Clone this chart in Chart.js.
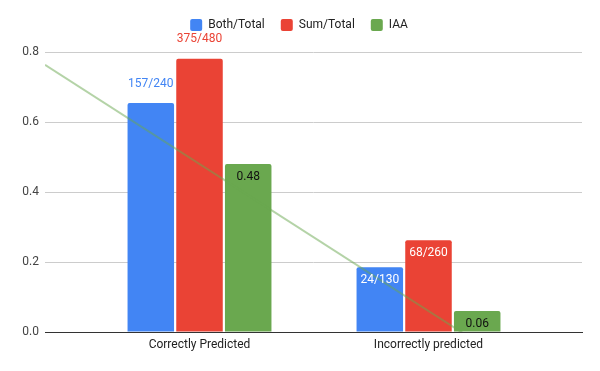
<!DOCTYPE html>
<html>
<head>
<meta charset="utf-8">
<script src="https://cdn.jsdelivr.net/npm/chart.js@4/dist/chart.umd.min.js"></script>
<style>
  html, body { margin: 0; padding: 0; background: #fff; }
  #wrap { width: 600px; height: 371px; }
</style>
</head>
<body>
<div id="wrap"><canvas id="chart"></canvas></div>
<script>
// dados
const categories = ["Correctly Predicted", "Incorrectly predicted"];
const bothTotal = [0.654, 0.185];
const sumTotal = [0.781, 0.262];
const iaa = [0.48, 0.06];
const bothLabels = ["157/240", "24/130"];
const sumLabels = ["375/480", "68/260"];
const iaaLabels = ["0.48", "0.06"];
const yTicks = [0, 0.2, 0.4, 0.6, 0.8];

const BLUE = "#4285f4";
const RED = "#ea4335";
const GREEN = "#6aa84f";

Chart.defaults.font.family = "Roboto";
Chart.defaults.font.size = 12;
Chart.defaults.color = "#444";

// legenda: mais espaço abaixo e centralizada de verdade
const legendGap = {
  id: "legendGap",
  beforeInit(chart) {
    const fit = chart.legend.fit;
    chart.legend.fit = function () {
      fit.call(this);
      this.height += 11;
    };
  },
  afterLayout(chart) {
    chart.legend.left += 8;
    chart.legend.right += 8;
  },
};

// linha de tendência (linear) da série IAA
const trendLine = {
  id: "trendLine",
  afterDatasetsDraw(chart) {
    const { ctx, chartArea, scales } = chart;
    const n = iaa.length;
    let sx = 0, sy = 0, sxy = 0, sxx = 0;
    iaa.forEach((v, i) => { sx += i; sy += v; sxy += i * v; sxx += i * i; });
    const slope = (n * sxy - sx * sy) / (n * sxx - sx * sx);
    const intercept = (sy - slope * sx) / n;

    const p0 = scales.x.getPixelForValue(0);
    const p1 = scales.x.getPixelForValue(1);
    const xL = (chartArea.left - p0) / (p1 - p0);
    const xR = (chartArea.right - p0) / (p1 - p0);

    ctx.save();
    ctx.beginPath();
    ctx.rect(chartArea.left, chartArea.top, chartArea.right - chartArea.left, chartArea.bottom - chartArea.top);
    ctx.clip();
    ctx.strokeStyle = "rgba(106, 168, 79, 0.5)";
    ctx.lineWidth = 2;
    ctx.beginPath();
    ctx.moveTo(chartArea.left, scales.y.getPixelForValue(intercept + slope * xL));
    ctx.lineTo(chartArea.right, scales.y.getPixelForValue(intercept + slope * xR));
    ctx.stroke();
    ctx.restore();
  },
};

// rótulos das barras
const barLabels = {
  id: "barLabels",
  afterDatasetsDraw(chart) {
    const { ctx } = chart;
    ctx.save();
    ctx.font = "12px Roboto";
    ctx.textAlign = "center";
    ctx.textBaseline = "middle";
    chart.data.datasets.forEach((ds, di) => {
      const meta = chart.getDatasetMeta(di);
      meta.data.forEach((bar, i) => {
        const text = ds.valueLabels[i];
        const w = ctx.measureText(text).width;
        if (w + 4 > bar.width) {
          ctx.fillStyle = ds.backgroundColor;
          ctx.fillText(text, bar.x, bar.y - 19.5);
        } else {
          ctx.fillStyle = ds.insideColor;
          ctx.fillText(text, bar.x, bar.y + 13);
        }
      });
    });
    ctx.restore();
  },
};

new Chart(document.getElementById("chart"), {
  type: "bar",
  data: {
    labels: categories,
    datasets: [
      { label: "Both/Total", data: bothTotal, backgroundColor: BLUE, valueLabels: bothLabels, insideColor: "#fff" },
      { label: "Sum/Total", data: sumTotal, backgroundColor: RED, valueLabels: sumLabels, insideColor: "#fff" },
      { label: "IAA", data: iaa, backgroundColor: GREEN, valueLabels: iaaLabels, insideColor: "#111" },
    ],
  },
  options: {
    responsive: true,
    maintainAspectRatio: false,
    animation: false,
    layout: { padding: { top: 3, right: 18, bottom: 0, left: 0 } },
    datasets: {
      bar: {
        categoryPercentage: 0.638,
        barPercentage: 0.955,
        borderWidth: 0,
        borderRadius: { topLeft: 2, topRight: 2, bottomLeft: 0, bottomRight: 0 },
        borderSkipped: false,
      },
    },
    plugins: {
      legend: {
        position: "top",
        labels: {
          boxWidth: 12,
          boxHeight: 12,
          padding: 16,
          color: "#222",
          useBorderRadius: true,
          borderRadius: 2,
        },
      },
      tooltip: { enabled: false },
    },
    scales: {
      x: {
        afterBuildTicks(scale) {
          scale._startValue = -0.6747;
          scale._valueRange = 2.345;
        },
        afterFit(scale) { scale.height = 39; },
        grid: { display: false, drawTicks: false },
        border: { display: true, color: "#333" },
        ticks: { color: "#222", padding: 6 },
      },
      y: {
        min: 0,
        max: 0.8,
        afterBuildTicks(scale) { scale.ticks = yTicks.map((v) => ({ value: v })); },
        afterFit(scale) { scale.width = 45; },
        grid: {
          color: (c) => (c.tick && c.tick.value === 0 ? "rgba(0,0,0,0)" : "#ccc"),
          drawTicks: false,
        },
        border: { display: false },
        ticks: {
          padding: 6,
          color: "#444",
          callback: (v) => v.toFixed(1),
        },
      },
    },
  },
  plugins: [legendGap, trendLine, barLabels],
});
</script>
</body>
</html>
